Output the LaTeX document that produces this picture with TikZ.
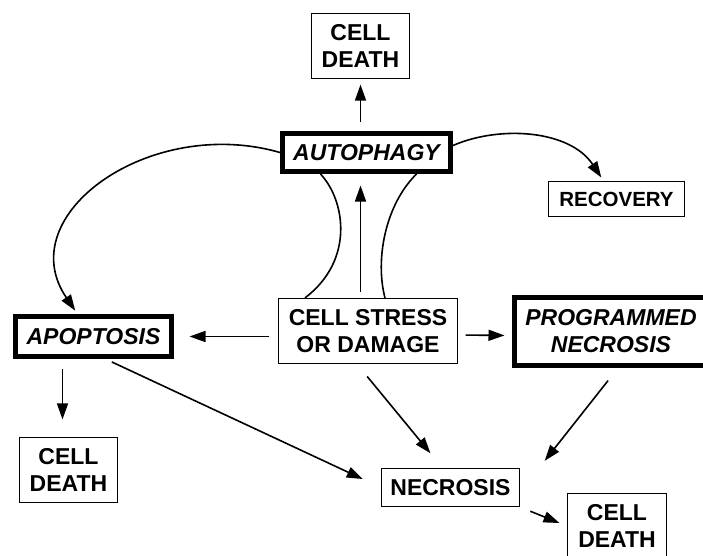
\documentclass[tikz,border=0pt]{standalone}
\usepackage{fontspec}
\setmainfont{Liberation Sans}
\usepackage{tikz}
\usetikzlibrary{arrows.meta}

\begin{document}
\begin{tikzpicture}[x=1pt,y=-1pt,
	box/.style={draw,line width=1.2pt,align=center,inner sep=0pt,font=\fontsize{23}{27}\selectfont\bfseries},
	thickbox/.style={box,line width=5pt,font=\fontsize{23}{27}\selectfont\bfseries\itshape},
	arr/.style={-{Triangle[length=16pt,width=11pt]},line width=1.6pt},
	link/.style={line width=1.6pt}]
			
			\useasboundingbox (0,0) rectangle (703,555);
			
			\node[box,minimum width=98,minimum height=65] (topDeath) at (360.5,46) {CELL\\DEATH};
			\node[thickbox,minimum width=168,minimum height=38] (autophagy) at (366.5,152.5) {AUTOPHAGY};
			\node[box,minimum width=136,minimum height=35,font=\fontsize{20.5}{24}\selectfont\bfseries] (recovery) at (616.5,199) {RECOVERY};
			
			\node[thickbox,minimum width=156,minimum height=40] (apoptosis) at (93.5,336.5) {APOPTOSIS};
			\node[box,minimum width=179,minimum height=65] (stress) at (368,331) {CELL STRESS\\OR DAMAGE};
			\node[thickbox,minimum width=193,minimum height=68] (programmed) at (611,331.5) {PROGRAMMED\\NECROSIS};
			
			\node[box,minimum width=98,minimum height=65] (leftDeath) at (68.5,470) {CELL\\DEATH};
			\node[box,minimum width=138,minimum height=38] (necrosis) at (450.5,487.5) {NECROSIS};
			\node[box,minimum width=99,minimum height=65] (rightDeath) at (617,526) {CELL\\DEATH};
			
			\draw[arr,shorten <=9pt,shorten >=5.5pt] (autophagy.north -| topDeath.south) -- (topDeath.south);
			\draw[arr,shorten <=5.5pt,shorten >=11.5pt] (stress.north -| topDeath.south) -- (autophagy.south -| topDeath.south);
			\draw[link] ([xshift=-46pt]autophagy.south) .. controls (345,200) and (355,260) .. ([xshift=-63pt]stress.north);
			\draw[link] ([xshift=50pt]autophagy.south) .. controls (385,205) and (375,260) .. ([xshift=17pt]stress.north);
			
			\draw[arr,shorten >=4pt] (autophagy.west) .. controls (150,115) and (10,215) .. ([xshift=-16pt]apoptosis.north);
			\draw[arr,shorten >=4pt] ([yshift=7pt]autophagy.east) .. controls (500,125) and (570,130) .. ([xshift=-13pt]recovery.north);
			
			\draw[arr,shorten <=8.5pt,shorten >=15.5pt] (stress.west |- apoptosis.east) -- (apoptosis.east);
			\draw[arr,shorten <=7.5pt,shorten >=7.5pt] ([yshift=-4pt]stress.east) -- ([yshift=-4pt]programmed.west);
			
			\draw[arr,shorten <=9.5pt,shorten >=17.5pt] ([xshift=-6pt]apoptosis.south -| leftDeath.north) -- ([xshift=-6pt]leftDeath.north);
			\draw[arr,shorten <=7pt,shorten >=20pt] ([xshift=12pt]apoptosis.south) -- (necrosis.west);
			\draw[arr,shorten <=16pt,shorten >=19pt] ([xshift=-11pt]stress.south) -- ([xshift=-8pt]necrosis.north);
			\draw[arr,shorten <=16pt,shorten >=9pt] ([xshift=7pt]programmed.south) -- ([xshift=19pt]necrosis.north east);
			\draw[arr,shorten <=11pt,shorten >=8pt] (necrosis.south east) -- (rightDeath.west);
			
		\end{tikzpicture}
\end{document}
